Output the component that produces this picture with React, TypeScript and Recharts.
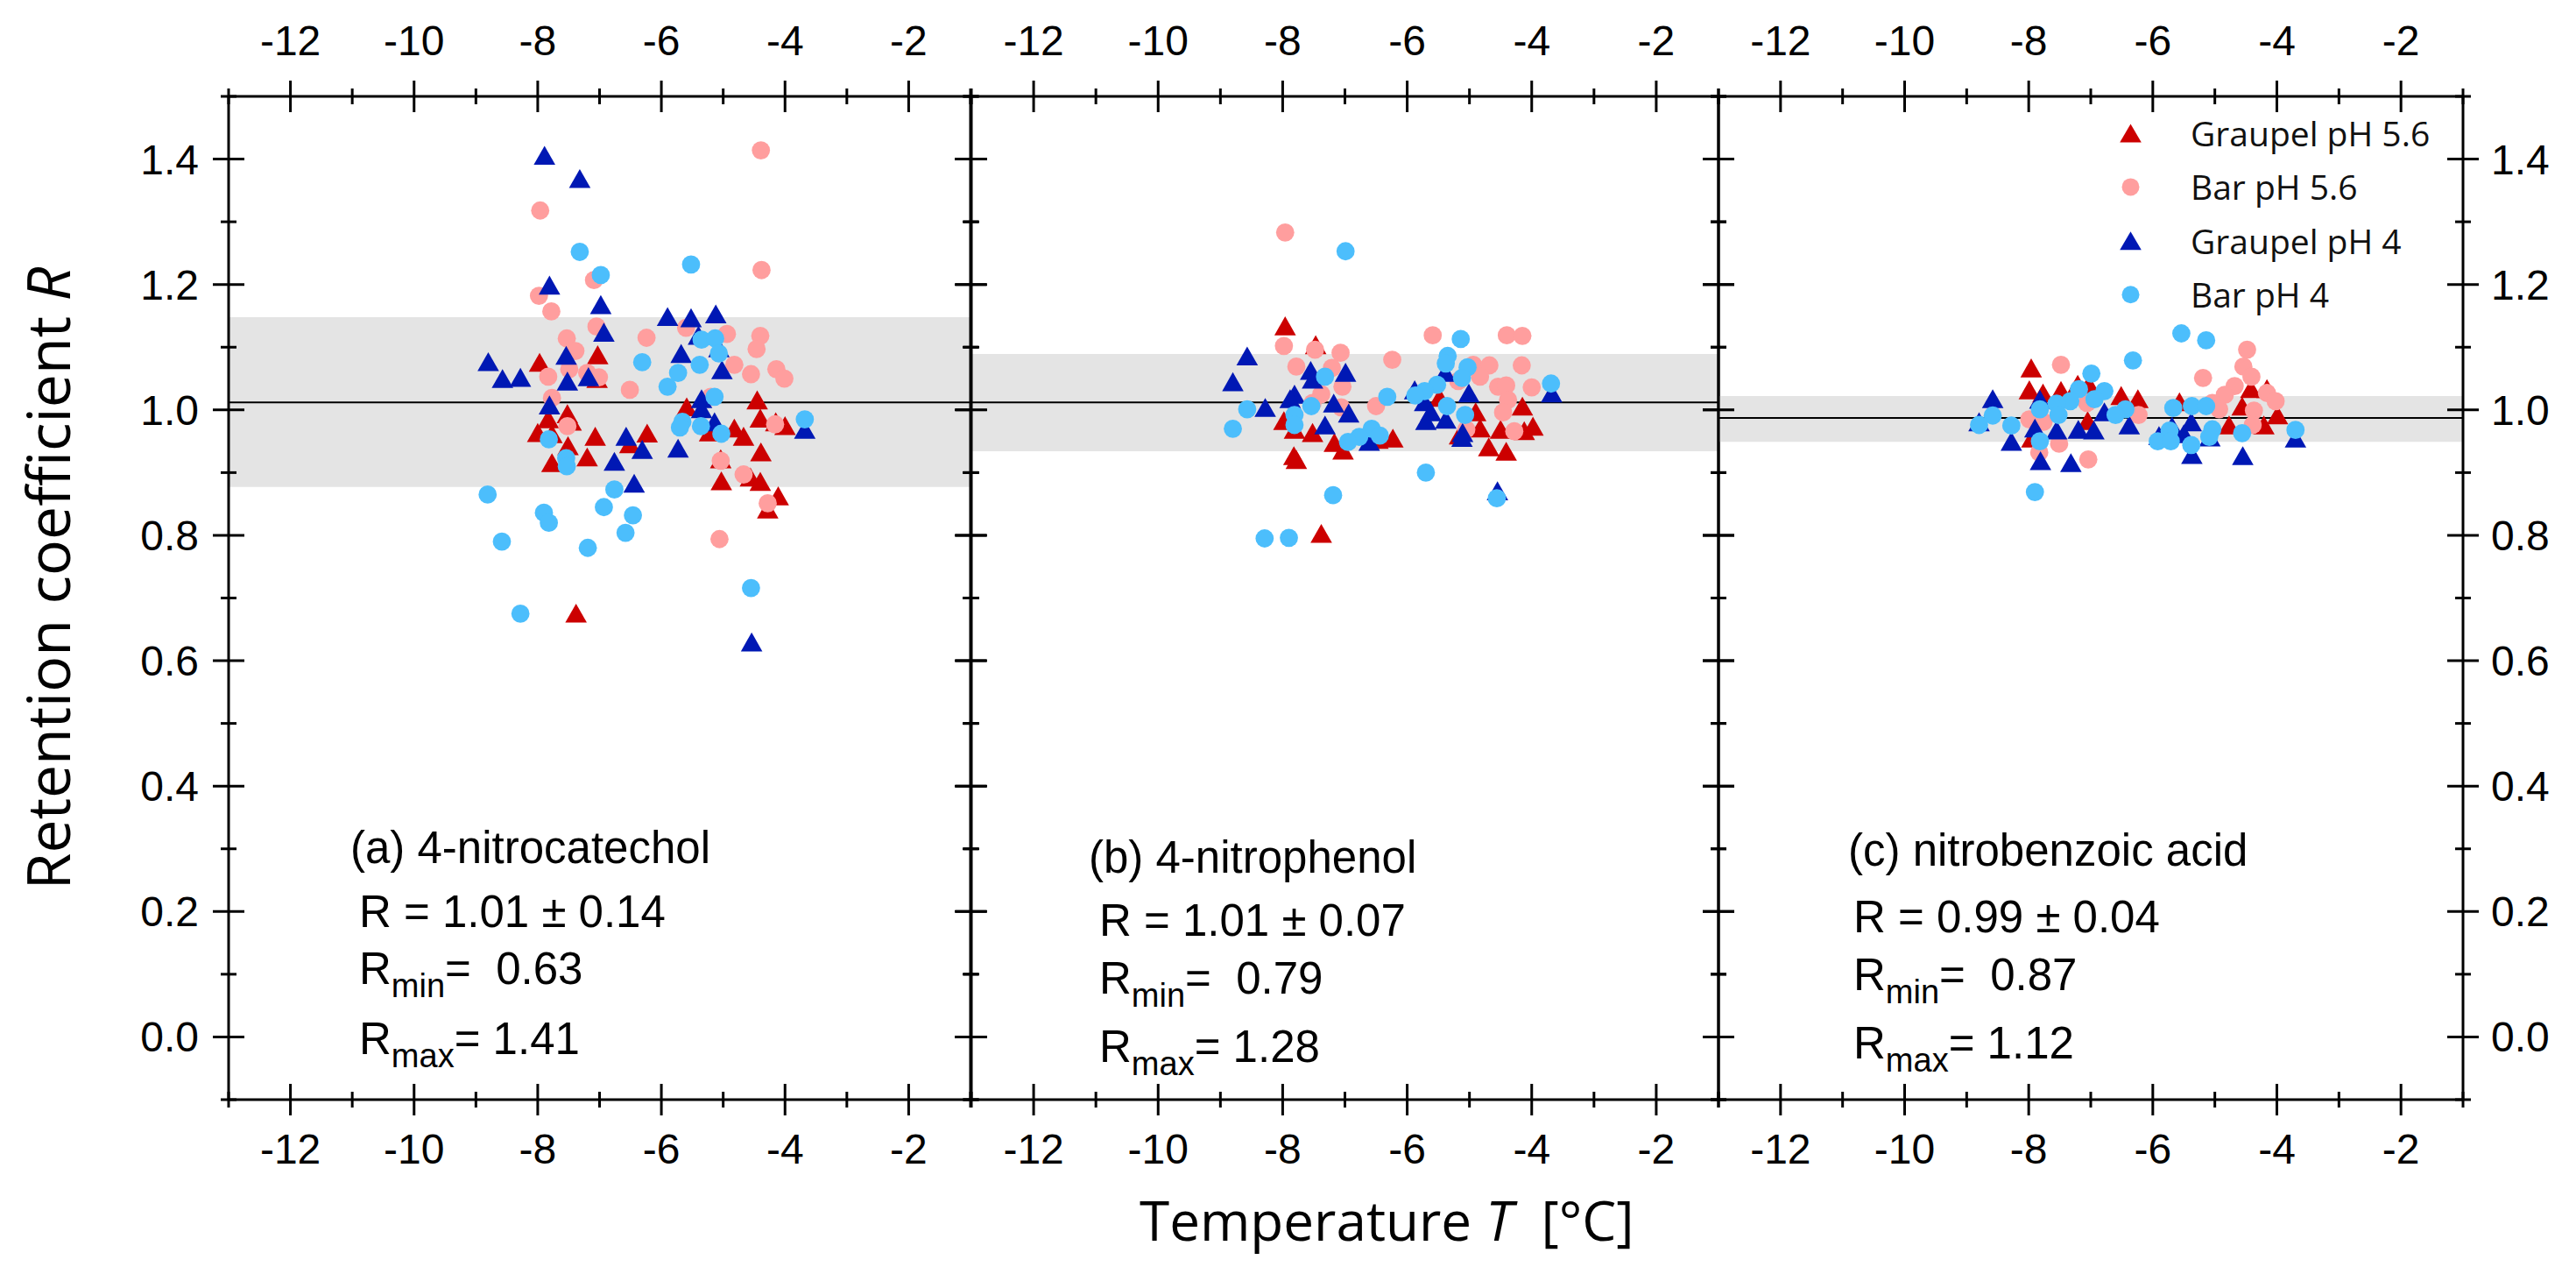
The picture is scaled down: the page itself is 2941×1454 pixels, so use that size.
import React from 'react';
import { ScatterChart, Scatter, XAxis, YAxis, ReferenceArea, ReferenceLine, Legend } from 'recharts';

const W = 2941;
const H = 1454;
const PLOT_TOP = 110;
const PLOT_BOTTOM = 1255;
const AX = 40;

const xTicks = [-13, -12, -11, -10, -9, -8, -7, -6, -5, -4, -3, -2, -1];
const yTicks = [-0.1, 0, 0.1, 0.2, 0.3, 0.4, 0.5, 0.6, 0.7, 0.8, 0.9, 1.0, 1.1, 1.2, 1.3, 1.4, 1.5];
const xDomain = [-13, -1];
const yDomain = [-0.1, 1.5];

const seriesNames = ['Graupel pH 5.6', 'Bar pH 5.6', 'Graupel pH 4', 'Bar pH 4'];
const seriesColors = ['#cc0000', '#ff9e9e', '#0018b4', '#4cbefc'];
const seriesShapes = ['triangle', 'circle', 'triangle', 'circle'];

// ---- Panel (a) 4-nitrocatechol ----
const aGraupel56 = [[-7.97,1.076],[-7.03,1.088],[-7.04,1.05],[-5.59,1.005],[-4.45,1.016],[-4.4,0.987],[-4.15,0.981],[-4.0,0.975],[-7.52,0.994],[-7.83,0.986],[-8.0,0.964],[-7.77,0.962],[-7.46,0.982],[-7.51,0.943],[-7.07,0.958],[-6.23,0.963],[-6.51,0.946],[-7.77,0.916],[-7.2,0.925],[-5.22,0.965],[-4.82,0.971],[-4.67,0.958],[-4.39,0.933],[-5.04,0.922],[-5.03,0.887],[-4.56,0.893],[-4.4,0.886],[-4.11,0.863],[-4.28,0.842],[-7.38,0.676]];
const aBar56 = [[-4.39,1.414],[-7.96,1.318],[-4.38,1.223],[-7.09,1.207],[-7.98,1.182],[-7.78,1.157],[-7.05,1.133],[-7.53,1.114],[-7.39,1.094],[-6.24,1.115],[-5.6,1.131],[-4.94,1.121],[-4.4,1.118],[-4.46,1.097],[-4.82,1.072],[-4.55,1.057],[-4.14,1.065],[-4.01,1.05],[-7.83,1.053],[-7.49,1.065],[-7.2,1.059],[-7.01,1.052],[-6.51,1.032],[-7.77,1.019],[-7.52,0.974],[-5.2,1.021],[-4.16,0.977],[-5.04,0.919],[-4.67,0.897],[-4.28,0.851],[-5.06,0.794]];
const aGraupel4 = [[-7.89,1.406],[-7.32,1.369],[-7.81,1.199],[-6.98,1.168],[-6.93,1.124],[-5.9,1.149],[-5.52,1.147],[-5.12,1.153],[-5.68,1.09],[-8.8,1.077],[-8.57,1.05],[-8.28,1.052],[-7.54,1.087],[-7.52,1.046],[-7.18,1.053],[-5.02,1.064],[-5.07,1.099],[-5.4,1.119],[-7.81,1.008],[-5.35,1.018],[-5.35,1.002],[-5.14,0.981],[-6.57,0.958],[-6.31,0.937],[-5.73,0.939],[-6.76,0.918],[-6.44,0.883],[-4.54,0.63],[-3.68,0.969]];
const aBar4 = [[-7.32,1.252],[-6.98,1.215],[-5.52,1.232],[-5.35,1.112],[-5.13,1.114],[-5.07,1.09],[-6.31,1.076],[-5.38,1.072],[-5.73,1.059],[-5.9,1.037],[-5.14,1.021],[-5.66,0.981],[-5.7,0.972],[-5.36,0.974],[-5.03,0.962],[-3.68,0.985],[-7.82,0.953],[-7.54,0.923],[-7.53,0.91],[-8.81,0.865],[-6.76,0.873],[-7.9,0.836],[-7.82,0.82],[-6.93,0.845],[-6.46,0.832],[-6.58,0.804],[-8.58,0.79],[-7.19,0.78],[-4.55,0.716],[-8.28,0.675]];

// ---- Panel (b) 4-nitrophenol ----
const bGraupel56 = [[-7.96,1.134],[-7.47,1.104],[-7.98,0.983],[-7.81,0.969],[-7.52,0.964],[-7.17,0.948],[-7.03,0.936],[-6.23,0.955],[-6.47,0.953],[-7.82,0.927],[-7.78,0.921],[-4.9,0.997],[-4.83,0.971],[-4.5,0.969],[-4.15,1.006],[-3.98,0.974],[-4.12,0.967],[-4.69,0.941],[-4.41,0.934],[-5.16,0.96],[-7.38,0.803],[-5.48,1.02]];
const bBar56 = [[-7.96,1.283],[-5.59,1.119],[-4.4,1.119],[-4.15,1.118],[-7.98,1.102],[-7.48,1.096],[-7.07,1.091],[-6.24,1.08],[-7.78,1.069],[-7.21,1.067],[-4.94,1.072],[-4.68,1.071],[-4.16,1.071],[-4.83,1.053],[-5.18,1.046],[-7.04,1.037],[-7.38,1.025],[-4.54,1.037],[-4.41,1.039],[-4.0,1.036],[-4.38,1.016],[-6.5,1.006],[-7.52,1.011],[-7.06,1.004],[-4.46,0.996],[-4.28,0.966],[-5.05,0.969]];
const bGraupel4 = [[-8.57,1.086],[-8.8,1.045],[-7.55,1.063],[-7.52,1.049],[-6.99,1.06],[-8.28,1.004],[-7.81,1.025],[-7.88,1.018],[-7.18,1.011],[-6.94,0.995],[-7.32,0.976],[-5.39,1.06],[-5.01,1.027],[-5.88,1.032],[-5.72,1.013],[-5.62,0.997],[-5.7,0.983],[-5.38,0.985],[-5.11,0.964],[-5.12,0.956],[-3.68,1.027],[-4.55,0.871],[-6.61,0.95]];
const bBar4 = [[-6.99,1.253],[-5.14,1.113],[-5.35,1.086],[-5.38,1.074],[-5.03,1.068],[-5.12,1.051],[-7.32,1.053],[-5.52,1.04],[-5.72,1.03],[-5.87,1.023],[-6.32,1.021],[-3.69,1.042],[-7.54,1.006],[-7.81,0.992],[-7.81,0.976],[-8.57,1.001],[-8.8,0.97],[-5.36,1.006],[-5.07,0.992],[-6.57,0.97],[-6.44,0.959],[-6.77,0.957],[-6.95,0.949],[-5.7,0.9],[-7.19,0.864],[-4.56,0.859],[-8.29,0.795],[-7.9,0.796]];

// ---- Panel (c) nitrobenzoic acid ----
const cGraupel56 = [[-7.96,1.067],[-7.99,1.032],[-7.77,1.027],[-7.48,1.031],[-7.21,1.041],[-6.51,1.023],[-6.24,1.018],[-7.03,1.041],[-7.05,0.983],[-5.57,1.013],[-4.16,1.034],[-4.42,1.034],[-4.56,1.006],[-4.77,0.976],[-4.21,0.976],[-3.99,0.992],[-7.95,0.955]];
const cBar56 = [[-7.48,1.072],[-4.48,1.096],[-4.54,1.069],[-4.41,1.053],[-5.19,1.051],[-4.68,1.038],[-4.84,1.024],[-4.16,1.027],[-4.02,1.014],[-5.04,1.011],[-4.93,1.001],[-4.37,0.999],[-7.06,1.011],[-6.23,0.992],[-7.99,0.985],[-7.76,0.981],[-7.51,0.946],[-7.83,0.932],[-7.04,0.921],[-4.39,0.976]];
const cGraupel4 = [[-8.58,1.018],[-8.8,0.981],[-8.28,0.95],[-7.9,0.971],[-7.82,1.017],[-7.55,0.968],[-7.2,0.969],[-6.95,0.968],[-7.81,0.919],[-7.32,0.916],[-6.78,0.997],[-6.38,0.976],[-5.9,0.959],[-5.69,0.974],[-5.5,0.962],[-5.38,0.981],[-5.37,0.929],[-5.08,0.957],[-4.55,0.927],[-3.7,0.955]];
const cBar4 = [[-5.54,1.122],[-5.14,1.111],[-6.32,1.079],[-6.99,1.058],[-7.19,1.033],[-6.78,1.03],[-6.94,1.017],[-7.33,1.014],[-7.55,1.01],[-7.82,1.001],[-7.52,0.992],[-6.44,1.001],[-6.6,0.992],[-8.58,0.991],[-8.8,0.976],[-8.28,0.975],[-7.82,0.95],[-5.67,1.003],[-5.37,1.006],[-5.14,1.006],[-5.04,0.969],[-5.09,0.957],[-5.73,0.967],[-5.92,0.95],[-5.71,0.95],[-5.38,0.944],[-4.56,0.963],[-3.7,0.968],[-7.9,0.869]];

// mean line and band (mean ± sd) per panel
const panelMeans = [1.012, 1.012, 0.987];
const panelBandLow = [0.877, 0.934, 0.949];
const panelBandHigh = [1.148, 1.089, 1.022];

// annotation texts
const panelTitles = ['(a) 4-nitrocatechol', '(b) 4-nitrophenol', '(c) nitrobenzoic acid'];
const panelMeanText = ['1.01 ± 0.14', '1.01 ± 0.07', '0.99 ± 0.04'];
const panelMinText = ['0.63', '0.79', '0.87'];
const panelMaxText = ['1.41', '1.28', '1.12'];

const TICK_FONT = "'Liberation Sans', Arial, sans-serif";
const TITLE_FONT = "'Open Sans', sans-serif";

const toPts = (arr: number[][]) => arr.map(([x, y]) => ({ x, y }));

const makeShape = (kind: string, color: string) => (props: any) => {
  const { cx, cy } = props;
  if (cx == null || cy == null) return <g />;
  if (kind === 'triangle') {
    return <path d={`M${cx},${cy - 10.8}L${cx + 12.3},${cy + 10.8}L${cx - 12.3},${cy + 10.8}Z`} fill={color} />;
  }
  return <circle cx={cx} cy={cy} r={10.4} fill={color} />;
};

const makeXTick = (side: 'top' | 'bottom') => (props: any) => {
  const { x, y, payload } = props;
  const v = payload.value;
  const major = Math.abs(v % 2) === 0 && v >= -12 && v <= -2;
  const L = major ? 18 : 9;
  return (
    <g>
      <line x1={x} x2={x} y1={y - L} y2={y + L} stroke="#000" strokeWidth={3} />
      {major && (
        <text x={x} y={side === 'top' ? y - 47 : y + 73} textAnchor="middle" fontSize={48} fontFamily={TICK_FONT} fill="#000">
          {String(v)}
        </text>
      )}
    </g>
  );
};

const makeYTick = (side: 'left' | 'right', showLabel: boolean) => (props: any) => {
  const { x, y, payload } = props;
  const k = Math.round(payload.value * 10);
  const major = k % 2 === 0 && k >= 0 && k <= 14;
  const L = major ? 18 : 9;
  return (
    <g>
      <line x1={x - L} x2={x + L} y1={y} y2={y} stroke="#000" strokeWidth={3} />
      {major && showLabel && (
        <text
          x={side === 'left' ? x - 34 : x + 32}
          y={y + 17}
          textAnchor={side === 'left' ? 'end' : 'start'}
          fontSize={48}
          fontFamily={TICK_FONT}
          fill="#000"
        >
          {(k / 10).toFixed(1)}
        </text>
      )}
    </g>
  );
};

const LegendContent = () => (
  <svg width={420} height={260} style={{ overflow: 'visible' }}>
    {seriesNames.map((name, i) => {
      const cy = 42 + i * 61.4;
      const cx = 32.5;
      return (
        <g key={name}>
          {seriesShapes[i] === 'triangle' ? (
            <path d={`M${cx},${cy - 10.5}L${cx + 12.3},${cy + 10.5}L${cx - 12.3},${cy + 10.5}Z`} fill={seriesColors[i]} />
          ) : (
            <circle cx={cx} cy={cy} r={10} fill={seriesColors[i]} />
          )}
          <text x={101} y={cy + 15} fontSize={39} fontFamily={TITLE_FONT} fill="#111">
            {name}
          </text>
        </g>
      );
    })}
  </svg>
);

type PanelProps = {
  left: number;
  right: number;
  series: number[][][];
  idx: number;
  leftLabels: boolean;
  rightLabels: boolean;
  legend?: boolean;
};

function Panel({ left, right, series, idx, leftLabels, rightLabels, legend }: PanelProps) {
  const margin = { top: PLOT_TOP - AX, bottom: H - PLOT_BOTTOM - AX, left: left - AX, right: W - right - AX };
  return (
    <div style={{ position: 'absolute', left: 0, top: 0, width: W, height: H }}>
      <ScatterChart width={W} height={H} margin={margin}>
        <XAxis xAxisId="b" type="number" dataKey="x" domain={xDomain} ticks={xTicks} allowDataOverflow interval={0}
          orientation="bottom" height={AX} tickSize={0} tickMargin={0} tickLine={false}
          axisLine={{ stroke: '#000', strokeWidth: 3 }} tick={makeXTick('bottom')} />
        <XAxis xAxisId="t" type="number" dataKey="x" domain={xDomain} ticks={xTicks} allowDataOverflow interval={0}
          orientation="top" height={AX} tickSize={0} tickMargin={0} tickLine={false}
          axisLine={{ stroke: '#000', strokeWidth: 3 }} tick={makeXTick('top')} />
        <YAxis yAxisId="l" type="number" dataKey="y" domain={yDomain} ticks={yTicks} allowDataOverflow interval={0}
          orientation="left" width={AX} tickSize={0} tickMargin={0} tickLine={false}
          axisLine={{ stroke: '#000', strokeWidth: 3 }} tick={makeYTick('left', leftLabels)} />
        <YAxis yAxisId="r" type="number" dataKey="y" domain={yDomain} ticks={yTicks} allowDataOverflow interval={0}
          orientation="right" width={AX} tickSize={0} tickMargin={0} tickLine={false}
          axisLine={{ stroke: '#000', strokeWidth: 3 }} tick={makeYTick('right', rightLabels)} />
        <ReferenceArea xAxisId="b" yAxisId="l" y1={panelBandLow[idx]} y2={panelBandHigh[idx]} fill="#d9d9d9" fillOpacity={0.7} stroke="none" />
        <ReferenceLine xAxisId="b" yAxisId="l" y={panelMeans[idx]} stroke="#000" strokeWidth={2} />
        {series.map((s, i) => (
          <Scatter
            key={seriesNames[i]}
            name={seriesNames[i]}
            xAxisId="b"
            yAxisId="l"
            data={toPts(s)}
            fill={seriesColors[i]}
            shape={makeShape(seriesShapes[i], seriesColors[i])}
            isAnimationActive={false}
          />
        ))}
        {legend && (
          <Legend
            layout="vertical"
            align="center"
            verticalAlign="middle"
            content={LegendContent}
            wrapperStyle={{ position: 'absolute', left: 2400, top: 110, width: 420, height: 260 }}
          />
        )}
      </ScatterChart>
    </div>
  );
}

const annotPos = [
  { tx: 400, ty: 985, rx: 410, r1: 1058, r2: 1123, r3: 1203 },
  { tx: 1243, ty: 996, rx: 1255, r1: 1068, r2: 1134, r3: 1212 },
  { tx: 2110, ty: 988, rx: 2116, r1: 1064, r2: 1130, r3: 1208 },
];

export default function App() {
  const panels = [
    { left: 261, right: 1108, series: [aGraupel56, aBar56, aGraupel4, aBar4], leftLabels: true, rightLabels: false },
    { left: 1109, right: 1962, series: [bGraupel56, bBar56, bGraupel4, bBar4], leftLabels: false, rightLabels: false },
    { left: 1962, right: 2812, series: [cGraupel56, cBar56, cGraupel4, cBar4], leftLabels: false, rightLabels: true, legend: true },
  ];
  const textStyle: React.CSSProperties = { whiteSpace: 'pre' };
  return (
    <div style={{ position: 'absolute', left: 0, top: 0, width: W, height: H, background: '#fff', fontFamily: TITLE_FONT }}>
      {panels.map((p, i) => (
        <Panel key={i} idx={i} {...p} />
      ))}
      <svg width={W} height={H} style={{ position: 'absolute', left: 0, top: 0, pointerEvents: 'none' }}>
        <text transform="translate(80,660) rotate(-90)" textAnchor="middle" fontSize={68} fontFamily={TITLE_FONT} fill="#000" style={textStyle}>
          Retention coefficient <tspan fontStyle="italic">R</tspan>
        </text>
        <text x={1301} y={1416} fontSize={62} fontFamily={TITLE_FONT} fill="#000" style={textStyle}>
          Temperature <tspan fontStyle="italic">T</tspan>{'  [°C]'}
        </text>
        {annotPos.map((a, i) => (
          <g key={i} fontFamily={TICK_FONT} fontSize={51} fill="#000">
            <text x={a.tx} y={a.ty} style={textStyle}>{panelTitles[i]}</text>
            <text x={a.rx} y={a.r1} style={textStyle}>{'R = ' + panelMeanText[i]}</text>
            <text x={a.rx} y={a.r2} style={textStyle}>
              R<tspan fontSize={38} dy={15}>min</tspan><tspan dy={-15}>{'=  ' + panelMinText[i]}</tspan>
            </text>
            <text x={a.rx} y={a.r3} style={textStyle}>
              R<tspan fontSize={38} dy={15}>max</tspan><tspan dy={-15}>{'= ' + panelMaxText[i]}</tspan>
            </text>
          </g>
        ))}
      </svg>
    </div>
  );
}
